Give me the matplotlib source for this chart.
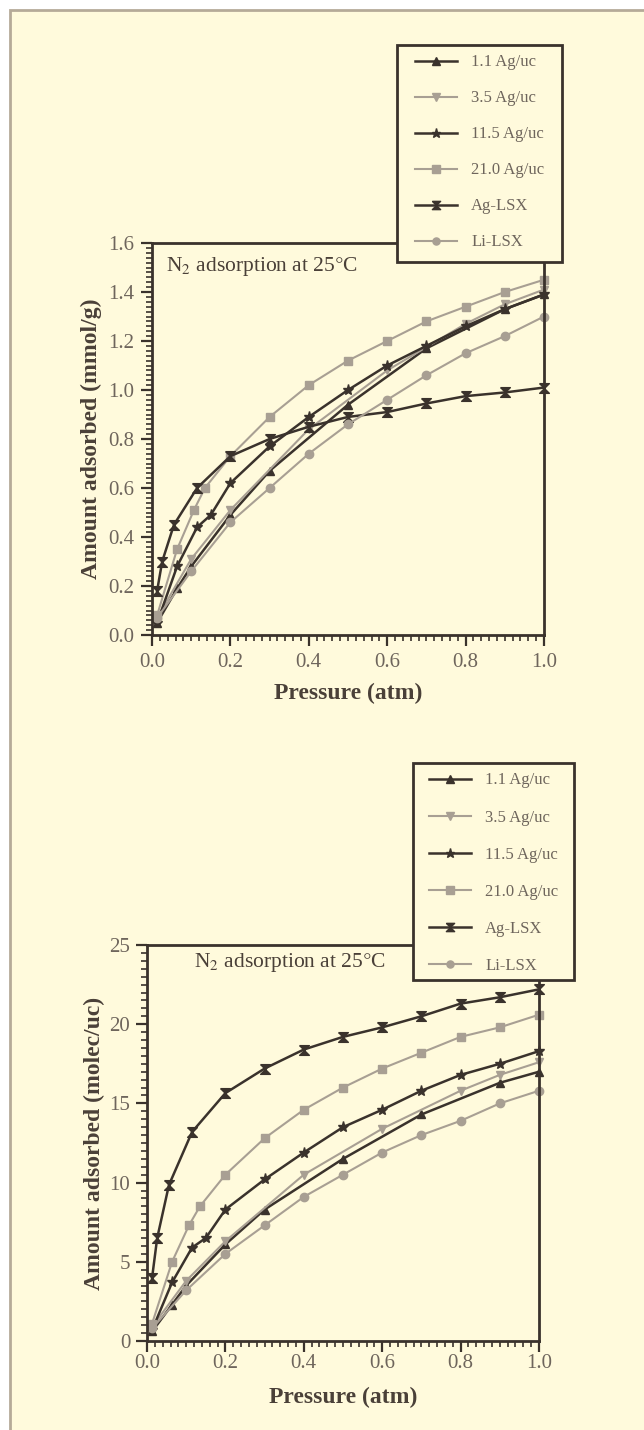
import matplotlib
matplotlib.use("Agg")
import matplotlib.pyplot as plt
from matplotlib.patches import Rectangle
from matplotlib.ticker import MultipleLocator

# ---------------- data ----------------
labels = ["1.1 Ag/uc", "3.5 Ag/uc", "11.5 Ag/uc", "21.0 Ag/uc", "Ag-LSX", "Li-LSX"]

p_11 = [0.013, 0.064, 0.10, 0.20, 0.30, 0.50, 0.70, 0.90, 1.00]
top_11 = [0.05, 0.19, 0.28, 0.49, 0.67, 0.94, 1.17, 1.33, 1.39]
bot_11 = [0.6, 2.3, 3.5, 6.1, 8.3, 11.5, 14.3, 16.3, 17.0]

p_35 = [0.013, 0.10, 0.20, 0.40, 0.60, 0.80, 0.90, 1.00]
top_35 = [0.07, 0.31, 0.51, 0.84, 1.08, 1.27, 1.35, 1.41]
bot_35 = [0.9, 3.8, 6.3, 10.5, 13.4, 15.8, 16.8, 17.6]

p_115 = [0.013, 0.064, 0.115, 0.15, 0.20, 0.30, 0.40, 0.50, 0.60, 0.70, 0.80, 0.90, 1.00]
top_115 = [0.05, 0.28, 0.44, 0.49, 0.62, 0.77, 0.89, 1.00, 1.10, 1.18, 1.26, 1.33, 1.39]
bot_115 = [0.7, 3.7, 5.9, 6.5, 8.3, 10.2, 11.9, 13.5, 14.6, 15.8, 16.8, 17.5, 18.3]

p_210 = [0.013, 0.064, 0.107, 0.135, 0.20, 0.30, 0.40, 0.50, 0.60, 0.70, 0.80, 0.90, 1.00]
top_210 = [0.08, 0.35, 0.51, 0.60, 0.73, 0.89, 1.02, 1.12, 1.20, 1.28, 1.34, 1.40, 1.45]
bot_210 = [1.1, 5.0, 7.3, 8.5, 10.5, 12.8, 14.6, 16.0, 17.2, 18.2, 19.2, 19.8, 20.6]

p_ag = [0.013, 0.026, 0.056, 0.115, 0.20, 0.30, 0.40, 0.50, 0.60, 0.70, 0.80, 0.90, 1.00]
top_ag = [0.18, 0.30, 0.45, 0.60, 0.73, 0.80, 0.85, 0.89, 0.91, 0.945, 0.975, 0.99, 1.01]
bot_ag = [4.0, 6.5, 9.85, 13.2, 15.65, 17.2, 18.4, 19.2, 19.8, 20.5, 21.3, 21.7, 22.2]

p_li = [0.013, 0.10, 0.20, 0.30, 0.40, 0.50, 0.60, 0.70, 0.80, 0.90, 1.00]
top_li = [0.07, 0.26, 0.46, 0.60, 0.74, 0.86, 0.96, 1.06, 1.15, 1.22, 1.30]
bot_li = [0.8, 3.2, 5.5, 7.3, 9.1, 10.5, 11.9, 13.0, 13.9, 15.0, 15.8]

xticks = [0.0, 0.2, 0.4, 0.6, 0.8, 1.0]
top_yticks = [0.0, 0.2, 0.4, 0.6, 0.8, 1.0, 1.2, 1.4, 1.6]
bot_yticks = [0, 5, 10, 15, 20, 25]

# ---------------- style ----------------
CREAM = "#FFFADC"
DARK = "#3a322c"
GRAY = "#a89f93"
TICKC = "#6e655c"
LABELC = "#4a4038"
SERIF = ["Liberation Serif", "DejaVu Serif"]
plt.rcParams["font.family"] = SERIF
plt.rcParams["mathtext.fontset"] = "stix"

bowtie = [(-1, 1), (1, 1), (-1, -1), (1, -1), (-1, 1)]
styles = [
    dict(color=DARK, marker="^", lw=1.8, ms=6),
    dict(color=GRAY, marker="v", lw=1.5, ms=6),
    dict(color=DARK, marker="*", lw=1.8, ms=8),
    dict(color=GRAY, marker="s", lw=1.5, ms=6),
    dict(color=DARK, marker=bowtie, lw=1.8, ms=7),
    dict(color=GRAY, marker="o", lw=1.5, ms=6),
]

fig = plt.figure(figsize=(6.44, 14.30), dpi=100, facecolor="white")
W, H = 644.0, 1430.0
bg = Rectangle((10 / W, -0.01), 1.0, (H - 10) / H + 0.01,
               transform=fig.transFigure, facecolor=CREAM,
               edgecolor="#b5aa98", lw=2.0, zorder=-10)
fig.add_artist(bg)


def make_panel(rect, xs, ys, yticks, ymax, ylabel, title_xy, box,
               minor_y, xpad, ypad, ylabpad, xlabpad, handle_off, rowsp):
    ax = fig.add_axes(rect)
    ax.set_zorder(1)
    ax.set_facecolor(CREAM)
    for (px, py), st, lab in zip(zip(xs, ys), styles, labels):
        ax.plot(px, py, label=lab, mec=st["color"], mfc=st["color"],
                color=st["color"], marker=st["marker"], lw=st["lw"],
                ms=st["ms"], clip_on=False)
    ax.set_xlim(0, 1.0)
    ax.set_ylim(0, ymax)
    ax.set_xticks(xticks)
    ax.set_xticklabels(["%.1f" % v for v in xticks])
    ax.set_yticks(yticks)
    if isinstance(yticks[0], float):
        ax.set_yticklabels(["%.1f" % v for v in yticks])
    else:
        ax.set_yticklabels([str(v) for v in yticks])
    ax.xaxis.set_minor_locator(MultipleLocator(0.02))
    ax.yaxis.set_minor_locator(MultipleLocator(minor_y))
    ax.tick_params(which="major", direction="out", length=8, width=1.6,
                   color=DARK, labelsize=15, labelcolor=TICKC)
    ax.tick_params(which="minor", direction="out", length=4, width=1.2,
                   color=DARK)
    ax.tick_params(axis="x", which="major", pad=xpad)
    ax.tick_params(axis="y", which="major", pad=ypad)
    for s in ax.spines.values():
        s.set_color(DARK)
        s.set_linewidth(2.0)
    ax.set_xlabel("Pressure (atm)", fontsize=17, fontweight="bold",
                  color=LABELC, labelpad=xlabpad)
    ax.set_ylabel(ylabel, fontsize=17, fontweight="bold", color=LABELC,
                  labelpad=ylabpad)
    ax.text(title_xy[0], title_xy[1], r"N$_2$ adsorption at 25$\degree$C",
            transform=ax.transAxes, fontsize=15.5, color=LABELC, ha="left",
            va="center")
    # legend frame drawn at exact position
    x0, y0, x1, y1 = box
    frame = Rectangle((x0 / W, 1 - y1 / H), (x1 - x0) / W, (y1 - y0) / H,
                      transform=fig.transFigure, facecolor=CREAM,
                      edgecolor=DARK, lw=2.0, zorder=9, clip_on=False)
    ax.add_patch(frame)
    leg = ax.legend(loc="upper left",
                    bbox_to_anchor=((x0 + handle_off - 8) / W, 1 - (y0 + 1) / H),
                    bbox_transform=fig.transFigure, borderaxespad=0,
                    frameon=False, fontsize=12,
                    handlelength=2.5, handletextpad=0.85, labelspacing=rowsp,
                    borderpad=0.5, markerscale=0.85)
    leg.set_zorder(10)
    for t in leg.get_texts():
        t.set_color(TICKC)
    return ax


make_panel([152 / W, 1 - 635 / H, 392 / W, 392 / H],
           [p_11, p_35, p_115, p_210, p_ag, p_li],
           [top_11, top_35, top_115, top_210, top_ag, top_li],
           top_yticks, 1.6, "Amount adsorbed (mmol/g)",
           (0.035, 0.94), (397, 45, 562, 262), 0.02, 5, 5, 4, 8, 18, 1.2)

make_panel([147 / W, 1 - 1341 / H, 392 / W, 396 / H],
           [p_11, p_35, p_115, p_210, p_ag, p_li],
           [bot_11, bot_35, bot_115, bot_210, bot_ag, bot_li],
           bot_yticks, 25, "Amount adsorbed (molec/uc)",
           (0.12, 0.955), (413, 763, 574, 980), 0.5, 1, 4, 3, 10, 16, 1.27)

fig.savefig("out.png", dpi=100, facecolor="white")
